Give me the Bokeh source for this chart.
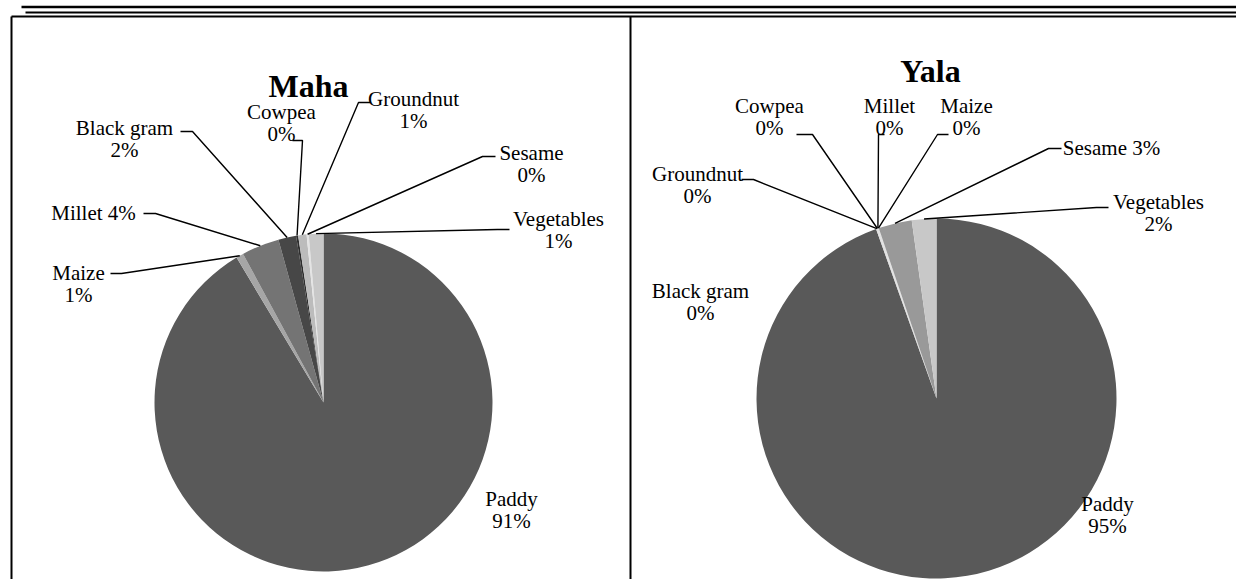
import math
from bokeh.plotting import figure
from bokeh.models import Range1d
from bokeh.embed import file_html
from bokeh.resources import INLINE
from bokeh.core.properties import value

# ---------------- data ----------------
maha_crops = ["Paddy", "Maize", "Millet", "Black gram", "Cowpea", "Groundnut", "Sesame", "Vegetables"]
maha_share = [91.4, 0.7, 3.6, 1.7, 0.2, 0.8, 0.2, 1.4]

yala_crops = ["Paddy", "Black gram", "Groundnut", "Cowpea", "Millet", "Maize", "Sesame", "Vegetables"]
yala_share = [94.55, 0.05, 0.05, 0.05, 0.05, 0.05, 3.0, 2.2]

titles = ["Maha", "Yala"]

# ---------------- styles / layout ----------------
maha_colors = {"Paddy": "#595959", "Maize": "#a6a6a6", "Millet": "#747474", "Black gram": "#474747",
               "Cowpea": "#2e2e2e", "Groundnut": "#bcbcbc", "Sesame": "#e4e4e4", "Vegetables": "#c8c8c8"}
yala_colors = {"Paddy": "#595959", "Black gram": "#e0e0e0", "Groundnut": "#d0d0d0", "Cowpea": "#e0e0e0",
               "Millet": "#d0d0d0", "Maize": "#e0e0e0", "Sesame": "#999999", "Vegetables": "#c8c8c8"}

W, H = 1236, 579


def py(y):
    """image pixel y -> data y"""
    return H - y


# label layout (image pixel coords): center x, first-line y, single-line flag, leader end, leader elbow
maha_layout = {
    "Paddy": (511, 498, False, None, None),
    "Maize": (78, 272, False, (110, 273), (121, 273)),
    "Millet": (93, 212, True, (143, 213), (155, 213)),
    "Black gram": (124, 127, False, (180, 131), (192, 131)),
    "Cowpea": (281, 111, False, (292, 140), (302, 140)),
    "Groundnut": (413, 98, False, (370, 102), (358, 102)),
    "Sesame": (531, 152, False, (495, 156), (482, 156)),
    "Vegetables": (558, 218, False, (509, 229), (497, 229)),
}
yala_layout = {
    "Paddy": (1107, 503, False, None, None),
    "Black gram": (700, 290, False, None, None),
    "Groundnut": (697, 173, False, (741, 179), (753, 179)),
    "Cowpea": (769, 105, False, (796, 134), (812, 134)),
    "Millet": (889, 105, False, (884, 134), (878, 134)),
    "Maize": (966, 105, False, (948, 134), (937, 134)),
    "Sesame": (1111, 147, True, (1061, 148), (1048, 148)),
    "Vegetables": (1158, 201, False, (1108, 207), (1096, 207)),
}

pies = [
    dict(crops=maha_crops, share=maha_share, colors=maha_colors, layout=maha_layout,
         cx=323, cy=402, r=169, title=titles[0], tpos=(308, 85)),
    dict(crops=yala_crops, share=yala_share, colors=yala_colors, layout=yala_layout,
         cx=936, cy=398, r=180, title=titles[1], tpos=(930, 70)),
]

FONT = value("Liberation Serif")
LINE_GAP = 22

p = figure(width=W, height=H, output_backend="svg", toolbar_location=None,
           x_range=Range1d(0, W), y_range=Range1d(0, H),
           min_border=0, outline_line_color=None)
p.axis.visible = False
p.xgrid.visible = False
p.ygrid.visible = False
p.background_fill_color = "white"
p.border_fill_color = "white"

# frame (document table rules)
p.segment(x0=[21, 25, 11, 11, 630], y0=[py(6.5), py(12), py(16), py(16), py(16)],
          x1=[W, W, W, 11, 630], y1=[py(6.5), py(12), py(16), py(H), py(H)],
          line_color="black", line_width=[2.5, 2, 2, 2, 2])

for pie in pies:
    total = sum(pie["share"])
    cx, cy, r = pie["cx"], py(pie["cy"]), pie["r"]
    starts, ends, cols = [], [], []
    cum = 0.0
    mids = []
    for crop, v in zip(pie["crops"], pie["share"]):
        c0 = cum / total
        cum += v
        c1 = cum / total
        starts.append(math.pi / 2 - 2 * math.pi * c0)
        ends.append(math.pi / 2 - 2 * math.pi * c1)
        mids.append(math.pi / 2 - 2 * math.pi * (c0 + c1) / 2)
        cols.append(pie["colors"][crop])
    p.wedge(x=[cx] * len(starts), y=[cy] * len(starts), radius=r, start_angle=starts, end_angle=ends,
            direction="clock", fill_color=cols, line_color=None)

    # leaders + labels
    lx, ly = [], []
    tx, ty, tt = [], [], []
    for crop, v, mid in zip(pie["crops"], pie["share"], mids):
        x, y, single, end, elbow = pie["layout"][crop]
        pct = f"{round(v / total * 100)}%"
        if single:
            tx.append(x); ty.append(py(y)); tt.append(f"{crop} {pct}")
        else:
            tx += [x, x]; ty += [py(y), py(y + LINE_GAP)]; tt += [crop, pct]
        if end is not None:
            ax = cx + r * math.cos(mid)
            ay = cy + r * math.sin(mid)
            lx.append([end[0], elbow[0], ax])
            ly.append([py(end[1]), py(elbow[1]), ay])
    p.multi_line(xs=lx, ys=ly, line_color="black", line_width=1.4)
    p.text(x=tx, y=ty, text=tt, text_font=FONT, text_font_size="21px", text_color="black",
           text_align="center", text_baseline="middle")
    p.text(x=[pie["tpos"][0]], y=[py(pie["tpos"][1])], text=[pie["title"]], text_font=FONT,
           text_font_size="32px", text_font_style="bold", text_color="black",
           text_align="center", text_baseline="middle")

open("out.html", "w").write(file_html(p, INLINE))
